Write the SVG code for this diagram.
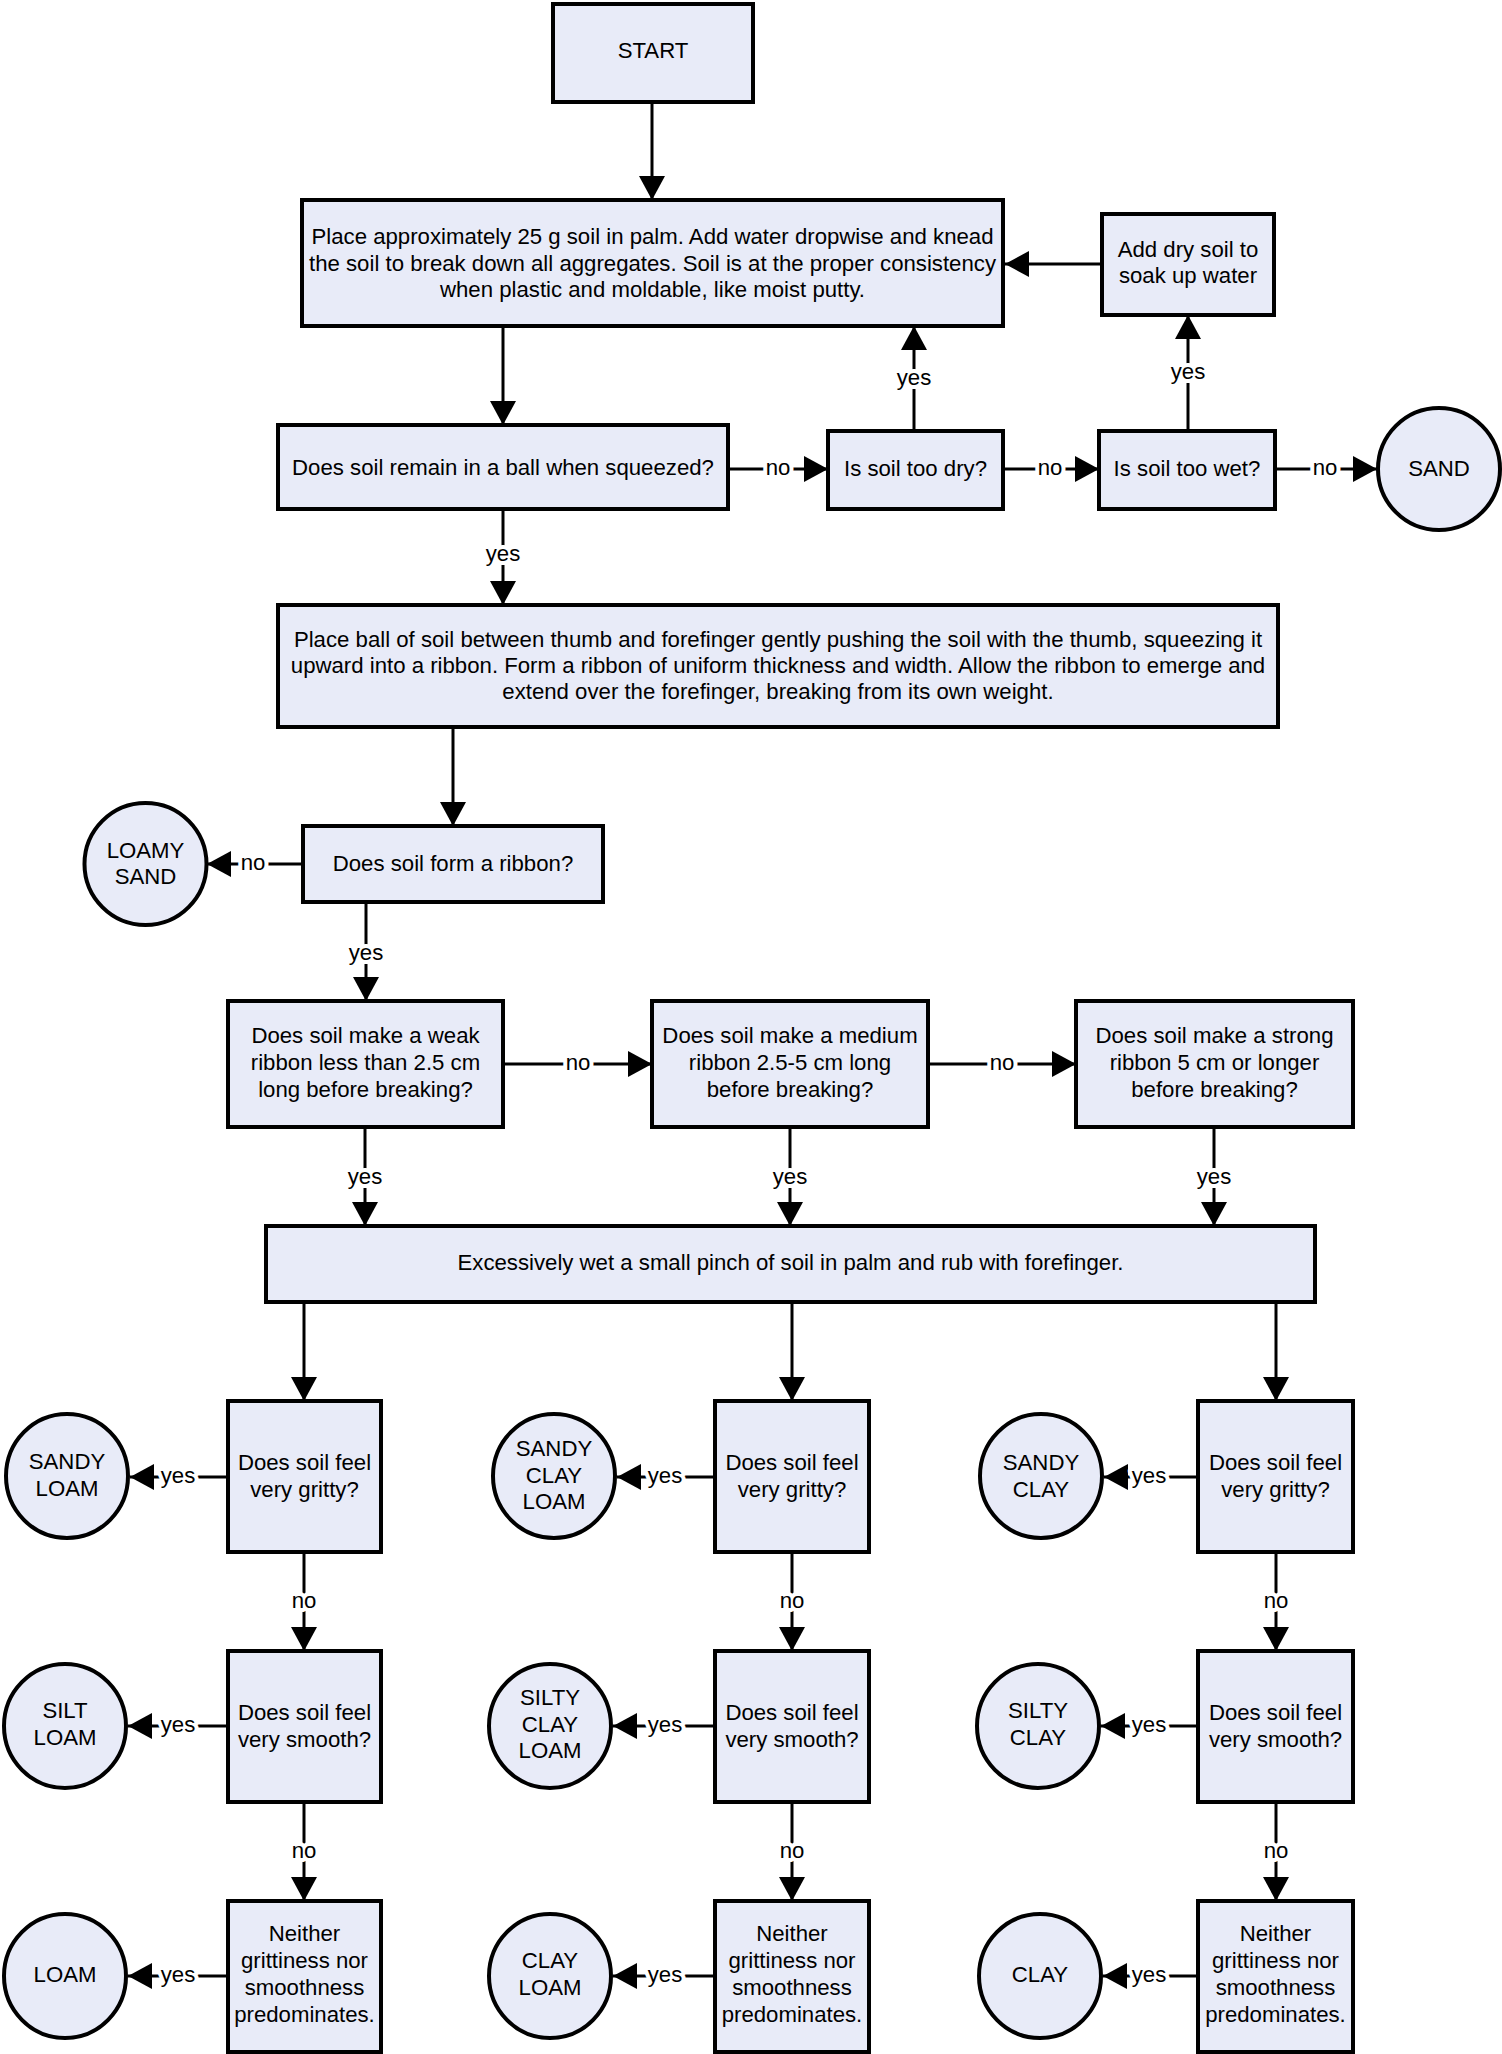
<svg xmlns="http://www.w3.org/2000/svg" width="1502" height="2054" viewBox="0 0 1502 2054">
<defs>
<style>
.box{fill:#E8EBF8;stroke:#000;stroke-width:4}
.end{fill:#E8EBF8;stroke:#000;stroke-width:4}
text{font-family:"Liberation Sans",Arial,sans-serif;font-size:22.2px;fill:#000;text-anchor:middle}
.lbl{stroke:#fff;stroke-width:8;paint-order:stroke;stroke-linejoin:round}
.con path{fill:none;stroke:#000;stroke-width:3;marker-end:url(#ah)}
</style>
<marker id="ah" markerUnits="userSpaceOnUse" markerWidth="24" markerHeight="26" refX="24" refY="13" orient="auto">
<path d="M0,0 L24,13 L0,26 z" fill="#000"/>
</marker>
</defs>
<rect width="1502" height="2054" fill="#fff"/>

<g id="connectors" class="con">
<path d="M652,102 V200"/>
<path d="M503,326 V425"/>
<path d="M1102,264 H1005"/>
<path d="M728,469 H828"/>
<path d="M1003,469 H1099"/>
<path d="M1275,469 H1377"/>
<path d="M914,431 V326"/>
<path d="M1188,431 V315"/>
<path d="M503,509 V605"/>
<path d="M453,727 V826"/>
<path d="M303,864 H207"/>
<path d="M366,902 V1001"/>
<path d="M503,1064 H652"/>
<path d="M928,1064 H1076"/>
<path d="M365,1127 V1226"/>
<path d="M790,1127 V1226"/>
<path d="M1214,1127 V1226"/>
<path d="M304,1302 V1401"/>
<path d="M792,1302 V1401"/>
<path d="M1276,1302 V1401"/>
<path d="M304,1552 V1651"/>
<path d="M304,1802 V1901"/>
<path d="M792,1552 V1651"/>
<path d="M792,1802 V1901"/>
<path d="M1276,1552 V1651"/>
<path d="M1276,1802 V1901"/>
<path d="M228,1477 H130"/>
<path d="M228,1726 H128"/>
<path d="M228,1976 H128"/>
<path d="M715,1477 H617"/>
<path d="M715,1726 H613"/>
<path d="M715,1976 H613"/>
<path d="M1198,1477 H1104"/>
<path d="M1198,1726 H1101"/>
<path d="M1198,1976 H1103"/>
</g>

<g id="labels">
<text class="lbl" x="778" y="475">no</text>
<text class="lbl" x="1050" y="475">no</text>
<text class="lbl" x="1325" y="475">no</text>
<text class="lbl" x="914" y="385">yes</text>
<text class="lbl" x="1188" y="379">yes</text>
<text class="lbl" x="503" y="561">yes</text>
<text class="lbl" x="253" y="870">no</text>
<text class="lbl" x="366" y="960">yes</text>
<text class="lbl" x="578" y="1070">no</text>
<text class="lbl" x="1002" y="1070">no</text>
<text class="lbl" x="365" y="1184">yes</text>
<text class="lbl" x="790" y="1184">yes</text>
<text class="lbl" x="1214" y="1184">yes</text>
<text class="lbl" x="304" y="1608">no</text>
<text class="lbl" x="304" y="1858">no</text>
<text class="lbl" x="792" y="1608">no</text>
<text class="lbl" x="792" y="1858">no</text>
<text class="lbl" x="1276" y="1608">no</text>
<text class="lbl" x="1276" y="1858">no</text>
<text class="lbl" x="178" y="1483">yes</text>
<text class="lbl" x="178" y="1732">yes</text>
<text class="lbl" x="178" y="1982">yes</text>
<text class="lbl" x="665" y="1483">yes</text>
<text class="lbl" x="665" y="1732">yes</text>
<text class="lbl" x="665" y="1982">yes</text>
<text class="lbl" x="1149" y="1483">yes</text>
<text class="lbl" x="1149" y="1732">yes</text>
<text class="lbl" x="1149" y="1982">yes</text>
</g>

<g id="start"><rect class="box" x="553" y="4" width="200" height="98"/><text x="653" y="58">START</text></g>

<g id="knead"><rect class="box" x="302" y="200" width="701" height="126"/>
<text x="652.5" y="244">Place approximately 25 g soil in palm. Add water dropwise and knead</text>
<text x="652.5" y="270.5">the soil to break down all aggregates. Soil is at the proper consistency</text>
<text x="652.5" y="297">when plastic and moldable, like moist putty.</text></g>

<g id="adddry"><rect class="box" x="1102" y="214" width="172" height="101"/>
<text x="1188" y="257">Add dry soil to</text>
<text x="1188" y="283">soak up water</text></g>

<g id="ball"><rect class="box" x="278" y="425" width="450" height="84"/>
<text x="503" y="475">Does soil remain in a ball when squeezed?</text></g>

<g id="toodry"><rect class="box" x="828" y="431" width="175" height="78"/>
<text x="915.5" y="476">Is soil too dry?</text></g>

<g id="toowet"><rect class="box" x="1099" y="431" width="176" height="78"/>
<text x="1187" y="476">Is soil too wet?</text></g>

<g id="sand"><ellipse class="end" cx="1439" cy="469" rx="61" ry="61"/>
<text x="1439" y="476">SAND</text></g>

<g id="ribbon"><rect class="box" x="278" y="605" width="1000" height="122"/>
<text x="778" y="646.5">Place ball of soil between thumb and forefinger gently pushing the soil with the thumb, squeezing it</text>
<text x="778" y="672.8">upward into a ribbon. Form a ribbon of uniform thickness and width. Allow the ribbon to emerge and</text>
<text x="778" y="699">extend over the forefinger, breaking from its own weight.</text></g>

<g id="formribbon"><rect class="box" x="303" y="826" width="300" height="76"/>
<text x="453" y="871">Does soil form a ribbon?</text></g>

<g id="loamysand"><ellipse class="end" cx="145.5" cy="864" rx="61" ry="61"/>
<text x="145.5" y="858">LOAMY</text><text x="145.5" y="884">SAND</text></g>

<g id="weak"><rect class="box" x="228" y="1001" width="275" height="126"/>
<text x="365.5" y="1043">Does soil make a weak</text>
<text x="365.5" y="1070">ribbon less than 2.5 cm</text>
<text x="365.5" y="1097">long before breaking?</text></g>

<g id="medium"><rect class="box" x="652" y="1001" width="276" height="126"/>
<text x="790" y="1043">Does soil make a medium</text>
<text x="790" y="1070">ribbon 2.5-5 cm long</text>
<text x="790" y="1097">before breaking?</text></g>

<g id="strong"><rect class="box" x="1076" y="1001" width="277" height="126"/>
<text x="1214.5" y="1043">Does soil make a strong</text>
<text x="1214.5" y="1070">ribbon 5 cm or longer</text>
<text x="1214.5" y="1097">before breaking?</text></g>

<g id="wet"><rect class="box" x="266" y="1226" width="1049" height="76"/>
<text x="790.5" y="1270">Excessively wet a small pinch of soil in palm and rub with forefinger.</text></g>

<g id="gritty1"><rect class="box" x="228" y="1401" width="153" height="151"/>
<text x="304.5" y="1470">Does soil feel</text><text x="304.5" y="1497">very gritty?</text></g>
<g id="smooth1"><rect class="box" x="228" y="1651" width="153" height="151"/>
<text x="304.5" y="1720">Does soil feel</text><text x="304.5" y="1747">very smooth?</text></g>
<g id="neither1"><rect class="box" x="228" y="1901" width="153" height="151"/>
<text x="304.5" y="1941">Neither</text><text x="304.5" y="1968">grittiness nor</text><text x="304.5" y="1995">smoothness</text><text x="304.5" y="2022">predominates.</text></g>

<g id="gritty2"><rect class="box" x="715" y="1401" width="154" height="151"/>
<text x="792" y="1470">Does soil feel</text><text x="792" y="1497">very gritty?</text></g>
<g id="smooth2"><rect class="box" x="715" y="1651" width="154" height="151"/>
<text x="792" y="1720">Does soil feel</text><text x="792" y="1747">very smooth?</text></g>
<g id="neither2"><rect class="box" x="715" y="1901" width="154" height="151"/>
<text x="792" y="1941">Neither</text><text x="792" y="1968">grittiness nor</text><text x="792" y="1995">smoothness</text><text x="792" y="2022">predominates.</text></g>

<g id="gritty3"><rect class="box" x="1198" y="1401" width="155" height="151"/>
<text x="1275.5" y="1470">Does soil feel</text><text x="1275.5" y="1497">very gritty?</text></g>
<g id="smooth3"><rect class="box" x="1198" y="1651" width="155" height="151"/>
<text x="1275.5" y="1720">Does soil feel</text><text x="1275.5" y="1747">very smooth?</text></g>
<g id="neither3"><rect class="box" x="1198" y="1901" width="155" height="151"/>
<text x="1275.5" y="1941">Neither</text><text x="1275.5" y="1968">grittiness nor</text><text x="1275.5" y="1995">smoothness</text><text x="1275.5" y="2022">predominates.</text></g>

<g id="sandyloam"><ellipse class="end" cx="67" cy="1476" rx="61" ry="62"/>
<text x="67" y="1469">SANDY</text><text x="67" y="1496">LOAM</text></g>
<g id="siltloam"><ellipse class="end" cx="65" cy="1726" rx="61" ry="62"/>
<text x="65" y="1718">SILT</text><text x="65" y="1745">LOAM</text></g>
<g id="loam"><ellipse class="end" cx="65" cy="1976" rx="61" ry="62"/>
<text x="65" y="1982">LOAM</text></g>

<g id="sandyclayloam"><ellipse class="end" cx="554" cy="1476" rx="61" ry="62"/>
<text x="554" y="1456">SANDY</text><text x="554" y="1482.5">CLAY</text><text x="554" y="1509">LOAM</text></g>
<g id="siltyclayloam"><ellipse class="end" cx="550" cy="1726" rx="61" ry="62"/>
<text x="550" y="1705">SILTY</text><text x="550" y="1731.5">CLAY</text><text x="550" y="1758">LOAM</text></g>
<g id="clayloam"><ellipse class="end" cx="550" cy="1976" rx="61" ry="62"/>
<text x="550" y="1968">CLAY</text><text x="550" y="1994.5">LOAM</text></g>

<g id="sandyclay"><ellipse class="end" cx="1041" cy="1476" rx="61" ry="62"/>
<text x="1041" y="1470">SANDY</text><text x="1041" y="1497">CLAY</text></g>
<g id="siltyclay"><ellipse class="end" cx="1038" cy="1726" rx="61" ry="62"/>
<text x="1038" y="1718">SILTY</text><text x="1038" y="1745">CLAY</text></g>
<g id="clay"><ellipse class="end" cx="1040" cy="1976" rx="61" ry="62"/>
<text x="1040" y="1982">CLAY</text></g>
</svg>
